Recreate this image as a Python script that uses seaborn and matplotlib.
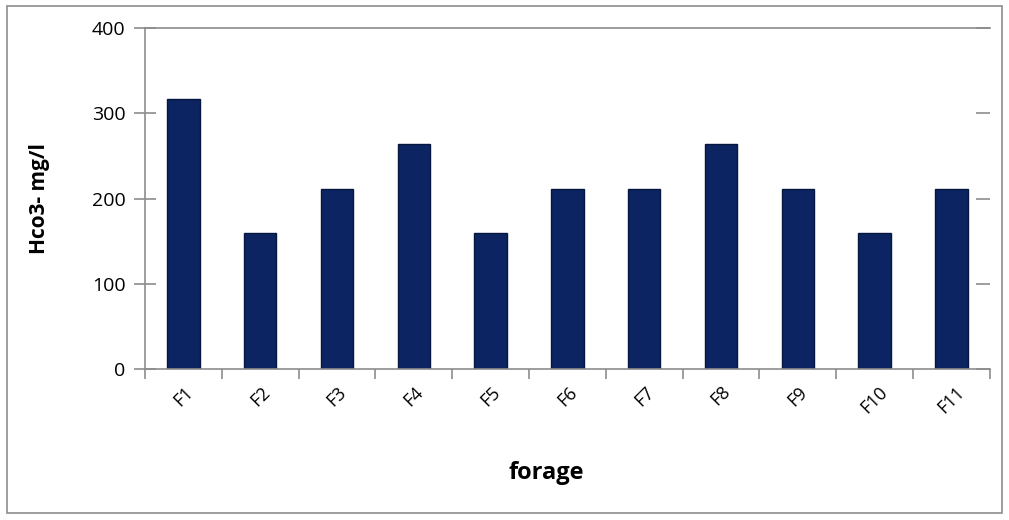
import numpy as np
import seaborn as sns
import matplotlib.pyplot as plt
from matplotlib.patches import Rectangle
from matplotlib.ticker import FixedLocator

# data
wells = ["F1", "F2", "F3", "F4", "F5", "F6", "F7", "F8", "F9", "F10", "F11"]
hco3 = [317, 159, 211, 264, 159, 211, 211, 264, 211, 159, 211]

sns.set_theme(style="white")
plt.rcParams['font.family'] = ['Open Sans', 'DejaVu Sans']
plt.rcParams['text.color'] = 'black'
plt.rcParams['axes.labelcolor'] = 'black'
plt.rcParams['xtick.color'] = 'black'
plt.rcParams['ytick.color'] = 'black'

fig = plt.figure(figsize=(10.09, 5.2), dpi=100)
ax = fig.add_axes([0.1437, 0.2904, 0.8373, 0.6556])

# outer chart border
fig.patches.append(Rectangle((0.007, 0.013), 0.986, 0.975, transform=fig.transFigure,
                             fill=False, edgecolor='#8c8c8c', linewidth=1.2))

sns.barplot(x=wells, y=hco3, color='#0c2461', saturation=1, width=0.42,
            edgecolor='#06173f', linewidth=1, ax=ax)

ax.set_xlim(-0.5, len(wells) - 0.5)
ax.set_ylim(0, 400)
ax.set_yticks([0, 100, 200, 300, 400])

ax.spines['right'].set_visible(False)
for s in ['left', 'bottom', 'top']:
    ax.spines[s].set_color('#8c8c8c')
    ax.spines[s].set_linewidth(1.2)

ax.tick_params(axis='y', which='major', direction='inout', length=16, width=1.2,
               color='#8c8c8c', labelsize=14, left=True, pad=6)
ax.tick_params(axis='y', which='major', right=True)
for t in ax.yaxis.get_major_ticks():
    t.tick2line.set_markersize(10)
    t.tick2line.set_marker(0)  # inward tick on the right side
ax.tick_params(axis='x', which='major', length=0, labelsize=13, pad=10)
ax.xaxis.set_minor_locator(FixedLocator(np.arange(-0.5, len(wells), 1)))
ax.tick_params(axis='x', which='minor', direction='out', length=7, width=1.2,
               color='#8c8c8c', bottom=True)
plt.setp(ax.get_xticklabels(), rotation=45, ha='center')

ax.set_xlabel("forage", fontsize=17, fontweight='bold')
ax.xaxis.set_label_coords(0.475, -0.27)
ax.set_ylabel("Hco3- mg/l", fontsize=15, fontweight='bold')
ax.yaxis.set_label_coords(-0.113, 0.5)

fig.savefig("out.png", dpi=100)
